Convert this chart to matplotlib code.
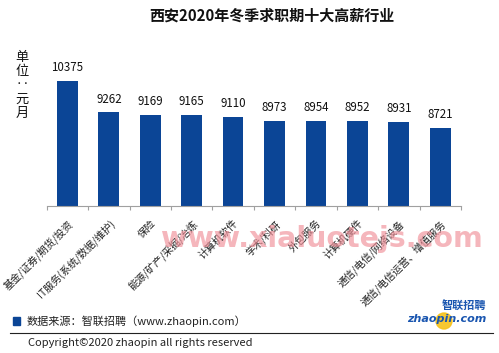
import matplotlib
matplotlib.use("Agg")
import matplotlib.pyplot as plt
from matplotlib.patches import Rectangle, Ellipse
from matplotlib.lines import Line2D

plt.rcParams['font.family'] = ['Noto Sans CJK SC', 'DejaVu Sans']

title = "西安2020年冬季求职期十大高薪行业"
categories = ["基金/证券/期货/投资", "IT服务(系统/数据/维护)", "保险", "能源/矿产/采掘/冶炼",
              "计算机软件", "学术/科研", "外包服务", "计算机硬件", "通信/电信/网络设备",
              "通信/电信运营、增值服务"]
values = [10375, 9262, 9169, 9165, 9110, 8973, 8954, 8952, 8931, 8721]
unit_chars = ["单", "位", "‥", "元", "月"]
source_text = "数据来源：智联招聘（www.zhaopin.com）"
copyright_text = "Copyright©2020 zhaopin all rights reserved"
watermark = "www.xialuotejs.com"

W, H = 499, 353
fig = plt.figure(figsize=(W / 100, H / 100), dpi=100)
fig.patch.set_facecolor("white")

def fx(px):
    return px / W

def fy(py):
    return 1 - py / H

bar_color = "#0b4596"
ax = fig.add_axes([fx(46.7), fy(205.7), fx(461) - fx(46.7), fy(62.8) - fy(205.7)])
x = list(range(len(categories)))
ax.bar(x, values, width=0.5, color=bar_color, zorder=2)
ax.set_xlim(-0.5, len(categories) - 0.5)
ax.set_ylim(6000, 11000)
for s in ["top", "right", "left"]:
    ax.spines[s].set_visible(False)
ax.spines["bottom"].set_color("#a0a0a0")
ax.spines["bottom"].set_linewidth(0.8)
ax.set_yticks([])
ax.set_xticks(x)
ax.set_xticklabels(categories, rotation=45, ha="right", rotation_mode="anchor",
                   fontsize=7.3, color="#222222")
ax.tick_params(axis="x", which="major", length=0, pad=9)
ax.set_xticks([i - 0.5 for i in range(len(categories) + 1)], minor=True)
ax.tick_params(axis="x", which="minor", length=3, color="#a0a0a0", width=0.8)

for i, v in enumerate(values):
    ax.annotate(f"{v}", (i, v), xytext=(0, 5), textcoords="offset points",
                ha="center", va="bottom", fontsize=8.3, color="#111111")

fig.text(fx(272), fy(16), title, ha="center", va="center", fontsize=10.8,
         fontweight="bold", color="#111111")

for k, ch in enumerate(unit_chars):
    fig.text(fx(22), fy(57 + k * 14), ch, ha="center", va="center", fontsize=9.5,
             color="#111111")

# watermark
fig.text(fx(322), fy(239), watermark, ha="center", va="center", fontsize=20.5,
         color="#f08f98", alpha=0.65, fontweight="semibold", family="DejaVu Sans")

# source line
fig.add_artist(Rectangle((fx(13), fy(325)), fx(7), fy(317) - fy(325),
                         transform=fig.transFigure, color=bar_color))
fig.text(fx(27), fy(321), source_text, ha="left", va="center", fontsize=8,
         color="#222222")
fig.add_artist(Line2D([fx(10), fx(493)], [fy(332.7), fy(332.7)],
                      transform=fig.transFigure, color="#222222", lw=0.8))
fig.text(fx(28), fy(343), copyright_text, ha="left", va="center", fontsize=8,
         color="#222222")

# logo
fig.add_artist(Ellipse((fx(444), fy(321)), fx(16), 16 / H,
                       transform=fig.transFigure, color="#f7c21a", alpha=0.9))
fig.text(fx(486), fy(306), "智联招聘", ha="right", va="center", fontsize=8,
         color="#1a56b0", fontweight="bold", style="italic")
fig.text(fx(486), fy(319), "zhaopin.com", ha="right", va="center", fontsize=8,
         color="#1a56b0", fontweight="bold", style="italic", family="DejaVu Sans")

fig.savefig("out.png", dpi=100, facecolor="white")
